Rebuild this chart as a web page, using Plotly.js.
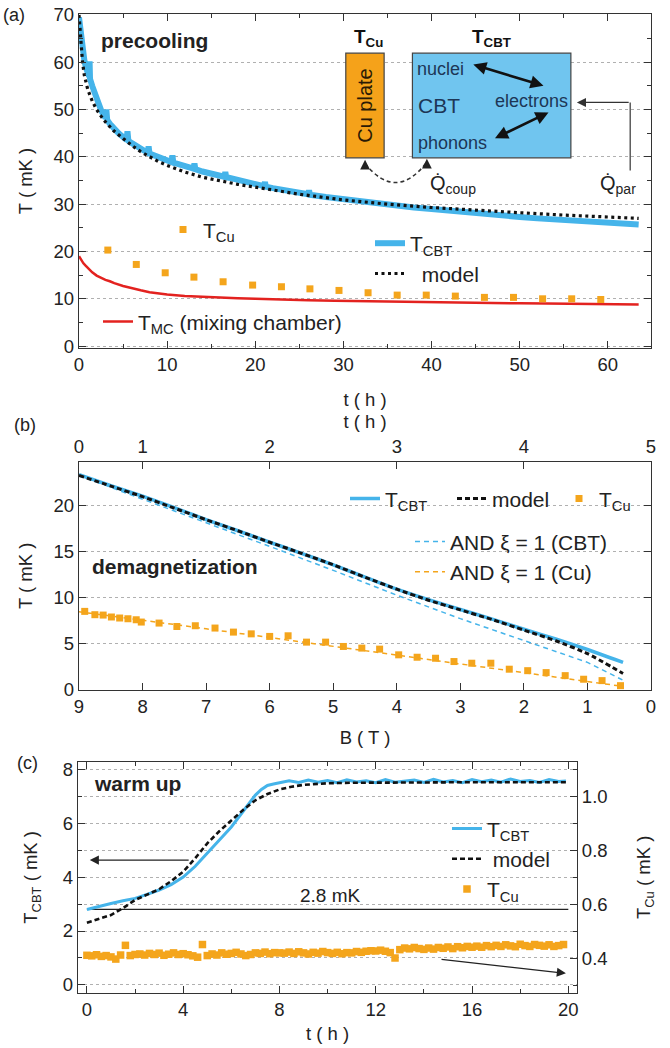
<!DOCTYPE html>
<html>
<head>
<meta charset="utf-8">
<script src="https://cdn.plot.ly/plotly-3.0.1.min.js"></script>
<style>html,body{margin:0;padding:0;background:#fff;} #chart{width:670px;height:1048px;}</style>
</head>
<body>
<div id="chart"></div>
<script>
// ---------------- DATA ----------------
// Panel (a): precooling
const a_cbt_t = [0,0.2,0.4,0.6,0.8,1.0,1.15,1.2,1.25,1.5,1.75,2.0,2.25,2.5,2.75,3.0,3.1,3.2,3.5,4.0,4.5,5.0,5.4,5.5,5.6,6,6.5,7,7.5,7.8,7.9,8.0,8.5,9,9.5,10,10.5,10.6,10.7,11,12,13,13.1,13.2,14,15,16,16.5,16.6,16.7,17,18,19,20,21,21.1,21.2,22,24,26,26.1,26.2,28,30,32,34,36,38,40,42,44,46,48,50,52,54,56,58,60,62,63.5];
const a_cbt_T = [69.5,66,62.5,60.5,58.8,57.4,57,60.2,56.5,55.0,53.5,52.2,51,49.9,49.0,48.2,50.0,47.8,47.0,45.9,45.0,44.2,43.6,45.4,43.4,42.9,42.2,41.7,41.2,40.9,42.2,40.7,40.3,40.0,39.6,39.3,38.9,40.3,38.8,38.6,38.0,37.5,38.6,37.4,36.9,36.4,36.0,35.8,36.8,35.7,35.6,35.1,34.6,34.2,33.8,34.7,33.7,33.4,32.8,32.1,32.9,32.0,31.5,31.0,30.5,30.1,29.7,29.3,29.0,28.6,28.3,28.0,27.6,27.3,27.0,26.8,26.5,26.3,26.1,25.9,25.7];
const a_model_t = [0,0.2,0.4,0.6,0.8,1.0,1.5,2,2.5,3,4,5,6,7,8,9,10,12,14,16,18,20,25,30,35,40,45,50,55,60,63.5];
const a_model_T = [70.0,64.5,60.0,57.3,55.5,54.2,51.8,50.0,48.6,47.4,45.4,43.8,42.4,41.1,40.0,39.0,38.2,36.8,35.7,34.9,34.2,33.6,32.1,30.9,30.0,29.3,28.7,28.2,27.7,27.3,27.0];
const a_mc_t = [0,0.25,0.5,0.75,1,1.5,2,2.5,3,3.5,4,5,6,7,8,9,10,12,14,16,18,20,23,26,29,32,35,38,41,44,47,50,53,56,59,62,63.5];
const a_mc_T = [19.0,18.2,17.5,17.0,16.5,15.6,14.9,14.4,14.0,13.7,13.3,12.7,12.2,11.8,11.4,11.1,10.9,10.6,10.4,10.2,10.1,10.0,9.8,9.7,9.6,9.5,9.4,9.3,9.25,9.2,9.1,9.05,9.0,8.95,8.9,8.85,8.8];
const a_cu_t = [3.27,6.5,9.78,13.04,16.35,19.7,22.97,26.2,29.5,32.8,36.1,39.4,42.7,46.0,49.3,52.6,55.9,59.2];
const a_cu_T = [20.3,17.26,15.5,14.58,13.6,12.9,12.55,12.1,11.77,11.28,10.78,10.78,10.57,10.3,10.3,10.0,10.0,9.85];

// Panel (b): demagnetization (x = B in T, top axis t in h)
const b_cbt_B = [9.0,8.5,8.0,7.5,7.0,6.5,6.0,5.5,5.0,4.5,4.0,3.5,3.0,2.5,2.0,1.5,1.0,0.44];
const b_cbt_T = [23.4,22.2,21.05,19.8,18.5,17.3,16.05,14.85,13.6,12.25,10.95,9.8,8.75,7.7,6.6,5.55,4.4,3.0];
const b_model_T = [23.3,22.15,21.0,19.75,18.5,17.3,16.05,14.85,13.6,12.25,10.95,9.75,8.7,7.65,6.5,5.35,3.95,1.8];
const b_and_B = [9,8,7,6,5,4,3,2,1,0.45];
const b_andcbt_T = [23.3,20.75,18.15,15.6,13.0,10.3,7.75,5.35,3.0,1.1];
const b_andcu_T = [8.5,7.6,6.65,5.7,4.75,3.8,2.85,1.9,0.95,0.4];
const b_cu_B = [8.91,8.75,8.62,8.49,8.36,8.23,8.1,8.02,7.74,7.46,7.17,6.86,6.57,6.29,6.0,5.71,5.42,5.12,4.84,4.55,4.27,3.97,3.68,3.39,3.1,2.82,2.52,2.23,1.94,1.65,1.35,1.06,0.77,0.48];
const b_cu_T = [8.54,8.18,8.14,7.93,7.82,7.74,7.63,7.38,7.27,6.9,6.98,6.73,6.29,6.1,5.82,5.89,5.2,5.2,4.73,4.55,4.44,3.82,3.56,3.45,3.09,2.91,2.91,2.26,2.1,1.89,1.56,1.17,1.02,0.47];
const b_top_tick_B = [9,8,6,4,2,0];
const b_top_tick_t = ['0','1','2','3','4','5'];

// Panel (c): warm up
const c_cbt_t = [0,0.5,1,1.5,2,2.5,3,3.5,4,4.5,5,5.5,6,6.5,7,7.25,7.5,7.75,8,8.4,8.8,9.2,9.6,10.0,10.4,10.8,11.2,11.6,12.0,12.4,12.8,13.2,13.6,14.0,14.4,14.8,15.2,15.6,16.0,16.4,16.8,17.2,17.6,18.0,18.4,18.8,19.2,19.6,19.9];
const c_cbt_T = [2.8,2.92,3.02,3.12,3.21,3.36,3.52,3.72,4.0,4.4,4.88,5.35,5.86,6.45,7.04,7.25,7.4,7.45,7.49,7.57,7.51,7.6,7.52,7.58,7.5,7.61,7.53,7.57,7.5,7.62,7.52,7.56,7.6,7.51,7.63,7.53,7.58,7.5,7.62,7.54,7.6,7.52,7.64,7.55,7.58,7.51,7.62,7.55,7.56];
const c_model_t = [0,0.5,1,1.5,2,2.5,3,3.5,4,4.5,5,5.5,6,6.5,7,7.5,8,8.5,9,9.5,10,11,12,14,16,18,20];
const c_model_T = [2.31,2.45,2.59,2.85,3.15,3.35,3.55,3.85,4.2,4.7,5.25,5.7,6.1,6.5,6.85,7.08,7.25,7.35,7.42,7.46,7.48,7.5,7.51,7.51,7.52,7.52,7.52];
const c_cu_t = [0,0.2,0.4,0.6,0.8,1.0,1.2,1.4,1.6,1.8,2.0,2.2,2.4,2.6,2.8,3.0,3.2,3.4,3.6,3.8,4.0,4.2,4.4,4.6,4.8,5.0,5.2,5.4,5.6,5.8,6.0,6.2,6.4,6.6,6.8,7.0,7.2,7.4,7.6,7.8,8.0,8.2,8.4,8.6,8.8,9.0,9.2,9.4,9.6,9.8,10.0,10.2,10.4,10.6,10.8,11.0,11.2,11.4,11.6,11.8,12.0,12.2,12.4,12.6,12.8,13.0,13.2,13.4,13.6,13.8,14.0,14.2,14.4,14.6,14.8,15.0,15.2,15.4,15.6,15.8,16.0,16.2,16.4,16.6,16.8,17.0,17.2,17.4,17.6,17.8,18.0,18.2,18.4,18.6,18.8,19.0,19.2,19.4,19.6,19.8];
const c_cu_T = [0.411,0.409,0.413,0.407,0.41,0.405,0.397,0.412,0.448,0.41,0.414,
  0.416,0.412,0.418,0.414,0.419,0.411,0.415,0.42,0.414,0.417,
  0.413,0.409,0.404,0.451,0.41,0.416,0.412,0.42,0.415,0.418,
  0.422,0.416,0.41,0.414,0.42,0.418,0.423,0.417,0.421,0.42,
  0.419,0.423,0.418,0.424,0.42,0.416,0.422,0.419,0.425,0.421,
  0.418,0.422,0.417,0.421,0.42,0.425,0.422,0.426,0.428,0.427,
  0.43,0.426,0.421,0.401,0.432,0.438,0.435,0.44,0.436,0.433,
  0.438,0.434,0.44,0.437,0.442,0.436,0.443,0.439,0.444,0.441,
  0.445,0.441,0.447,0.443,0.448,0.444,0.45,0.446,0.443,0.452,
  0.447,0.444,0.451,0.448,0.445,0.45,0.444,0.447,0.451];
const c_ref_t = [0,20];
const c_ref_T = [2.8,2.8];

// ---------------- STYLE ----------------
const W = 670, H = 1048;
const FONT = 'Liberation Sans, Arial, Helvetica, sans-serif';
const BLUE = '#45b4ea', BLUE_FILL = '#70c5ef', ORANGE = '#f4a51c', ORANGE_FILL = '#f5a21a', RED = '#e3221f', BLACK = '#111';
const AX = '#333', GRID = '#b0b0b0', NAVY = '#1d3656';
const px = v => v / W, py = v => 1 - v / H;
const LF = 21;

function leg(textLeft, firstCenter, fs, gap, extra) {
  return Object.assign({
    x: px(textLeft - 40), xanchor: 'left',
    y: py(firstCenter - 5 - 0.65 * fs), yanchor: 'top',
    bgcolor: 'rgba(0,0,0,0)', borderwidth: 0,
    font: {family: FONT, size: fs, color: '#222'},
    itemwidth: 30, tracegroupgap: gap || 0
  }, extra || {});
}

const traces = [
  // ---- panel (a)
  {x: a_mc_t, y: a_mc_T, xaxis: 'x', yaxis: 'y', mode: 'lines', name: 'T<sub>MC</sub> (mixing chamber)',
   line: {color: RED, width: 2.5}, legend: 'legend3'},
  {x: a_cu_t, y: a_cu_T, xaxis: 'x', yaxis: 'y', mode: 'markers', name: 'T<sub>Cu</sub>',
   marker: {symbol: 'square', size: 7, color: ORANGE}, legend: 'legend'},
  {x: a_cbt_t, y: a_cbt_T, xaxis: 'x', yaxis: 'y', mode: 'lines', name: 'T<sub>CBT</sub>',
   line: {color: BLUE, width: 6}, legend: 'legend2', legendgroup: 'a1', legendrank: 1},
  {x: a_model_t, y: a_model_T, xaxis: 'x', yaxis: 'y', mode: 'lines', name: '\u00a0\u00a0model',
   line: {color: BLACK, width: 3.2, dash: '3px,3.5px'}, legend: 'legend2', legendgroup: 'a2', legendrank: 2},

  // ---- panel (b)
  {x: b_and_B, y: b_andcbt_T, xaxis: 'x2', yaxis: 'y2', mode: 'lines', name: 'AND \u03be = 1 (CBT)',
   line: {color: BLUE, width: 1.5, dash: '5px,4px'}, legend: 'legend5', legendgroup: 'b4', legendrank: 1},
  {x: b_cu_B, y: b_cu_T, xaxis: 'x2', yaxis: 'y2', mode: 'markers', name: 'T<sub>Cu</sub>',
   marker: {symbol: 'square', size: 7, color: ORANGE}, legend: 'legend4', legendrank: 3},
  {x: b_and_B, y: b_andcu_T, xaxis: 'x2', yaxis: 'y2', mode: 'lines', name: 'AND \u03be = 1 (Cu)',
   line: {color: ORANGE, width: 1.5, dash: '5px,4px'}, legend: 'legend5', legendgroup: 'b5', legendrank: 2},
  {x: b_cbt_B, y: b_cbt_T, xaxis: 'x2', yaxis: 'y2', mode: 'lines', name: 'T<sub>CBT</sub>',
   line: {color: BLUE, width: 3.5, shape: 'spline', smoothing: 0.6}, legend: 'legend4', legendrank: 1},
  {x: b_cbt_B, y: b_model_T, xaxis: 'x2', yaxis: 'y2', mode: 'lines', name: 'model',
   line: {color: BLACK, width: 3, dash: '5px,3px', shape: 'spline', smoothing: 0.6}, legend: 'legend4', legendrank: 2},
  {x: b_top_tick_B, y: b_top_tick_B.map(() => null), xaxis: 'x3', yaxis: 'y2', mode: 'markers',
   showlegend: false, hoverinfo: 'skip'},

  // ---- panel (c)
  {x: c_ref_t, y: c_ref_T, xaxis: 'x4', yaxis: 'y3', mode: 'lines', showlegend: false,
   line: {color: '#222', width: 1.3}},
  {x: c_cu_t, y: c_cu_T, xaxis: 'x4', yaxis: 'y4', mode: 'markers', name: 'T<sub>Cu</sub>',
   marker: {symbol: 'square', size: 7.5, color: ORANGE}, legend: 'legend6', legendgroup: 'c3', legendrank: 3},
  {x: c_cbt_t, y: c_cbt_T, xaxis: 'x4', yaxis: 'y3', mode: 'lines', name: 'T<sub>CBT</sub>',
   line: {color: BLUE, width: 3}, legend: 'legend6', legendgroup: 'c1', legendrank: 1},
  {x: c_model_t, y: c_model_T, xaxis: 'x4', yaxis: 'y3', mode: 'lines', name: '\u00a0model',
   line: {color: BLACK, width: 2.6, dash: '5px,3px'}, legend: 'legend6', legendgroup: 'c2', legendrank: 2}
];

const tickf = {family: FONT, size: 18.5, color: '#222'};
const titf = {family: FONT, size: 18.5, color: '#222'};
const baseAx = {
  showline: true, linecolor: AX, linewidth: 1.3, ticks: 'inside', ticklen: 7, tickwidth: 1.2,
  tickcolor: AX, tickfont: tickf, zeroline: false, showgrid: false, fixedrange: true, automargin: false
};
const gridY = {showgrid: true, gridcolor: GRID, griddash: 'dot', gridwidth: 1};

const layout = {
  width: W, height: H, margin: {l: 0, r: 0, t: 0, b: 0, autoexpand: false}, paper_bgcolor: '#fff', plot_bgcolor: '#fff',
  font: {family: FONT, color: '#222'},
  // panel (a)
  xaxis: Object.assign({}, baseAx, {domain: [px(79), px(651)], anchor: 'y', range: [0, 64.9], dtick: 10,
    mirror: 'ticks', minor: {dtick: 5, ticks: 'inside', ticklen: 4, tickcolor: AX},
    title: {text: 't ( h )', font: titf, standoff: 18}}),
  yaxis: Object.assign({}, baseAx, gridY, {domain: [py(348), py(14)], anchor: 'x', range: [-0.4, 70.2], dtick: 10,
    mirror: 'ticks', minor: {dtick: 5, ticks: 'inside', ticklen: 4, tickcolor: AX},
    title: {text: 'T ( mK )', font: titf, standoff: 16}}),
  // panel (b)
  xaxis2: Object.assign({}, baseAx, {domain: [px(79), px(651)], anchor: 'y2', range: [9, 0], dtick: 1,
    title: {text: 'B ( T )', font: titf, standoff: 14}}),
  xaxis3: Object.assign({}, baseAx, {overlaying: 'x2', anchor: 'y2', side: 'top', range: [9, 0],
    tickmode: 'array', tickvals: b_top_tick_B, ticktext: b_top_tick_t,
    title: {text: 't ( h )', font: titf, standoff: 2}}),
  yaxis2: Object.assign({}, baseAx, gridY, {domain: [py(690), py(461.7)], anchor: 'x2', range: [0, 24.8], dtick: 5,
    mirror: 'ticks', title: {text: 'T ( mK )', font: titf, standoff: 16}}),
  // panel (c)
  xaxis4: Object.assign({}, baseAx, {domain: [px(78), px(577)], anchor: 'y3', range: [-0.37, 20.36], dtick: 4,
    mirror: 'ticks', minor: {dtick: 2, ticks: 'inside', ticklen: 4, tickcolor: AX},
    title: {text: 't ( h )', font: titf, standoff: 7}}),
  yaxis3: Object.assign({}, baseAx, gridY, {domain: [py(993), py(761.7)], anchor: 'x4', range: [-0.3, 8.28], dtick: 2,
    minor: {dtick: 1, ticks: 'inside', ticklen: 4, tickcolor: AX, showgrid: true, gridcolor: GRID, griddash: 'dot'},
    title: {text: 'T<sub>CBT</sub> ( mK )', font: titf, standoff: 20}}),
  yaxis4: Object.assign({}, baseAx, {overlaying: 'y3', anchor: 'x4', side: 'right', range: [0.271, 1.13],
    tick0: 0.4, dtick: 0.2, tickformat: '.1f',
    minor: {dtick: 0.1, ticks: 'inside', ticklen: 4, tickcolor: AX},
    title: {text: 'T<sub>Cu</sub> ( mK )', font: titf, standoff: 30}}),

  legend: leg(203, 228, LF, 0),
  legend2: leg(410, 241.7, LF, 0),
  legend3: leg(138, 320, LF, 0),
  legend4: leg(385, 497, LF, 0, {orientation: 'h', entrywidth: 62, entrywidthmode: 'pixels'}),
  legend5: leg(450, 540, LF, 0),
  legend6: leg(487, 827, LF, 0),

  shapes: [
    {type: 'rect', xref: 'x', yref: 'y', x0: 28.8, x1: 57.2, y0: 36, y1: 70.1, fillcolor: '#fff', line: {width: 0}, layer: 'below'},
    {type: 'rect', xref: 'x2', yref: 'y2', x0: 4.65, x1: 0.05, y0: 18.5, y1: 21.5, fillcolor: '#fff', line: {width: 0}, layer: 'below'},
    {type: 'rect', xref: 'x2', yref: 'y2', x0: 4.04, x1: 0.05, y0: 13.5, y1: 16.5, fillcolor: '#fff', line: {width: 0}, layer: 'below'},
    {type: 'rect', xref: 'x4', yref: 'y3', x0: 14.4, x1: 20.3, y0: 3.5, y1: 7.3, fillcolor: '#fff', line: {width: 0}, layer: 'below'},
    {type: 'rect', xref: 'x', yref: 'y', x0: 30.27, x1: 34.62, y0: 39.79, y1: 61.92, fillcolor: ORANGE_FILL, line: {color: '#444', width: 1.2}, layer: 'above'},
    {type: 'rect', xref: 'x', yref: 'y', x0: 37.83, x1: 55.81, y0: 39.79, y1: 61.92, fillcolor: BLUE_FILL, line: {color: '#444', width: 1.2}, layer: 'above'},
    {type: 'line', xref: 'x', yref: 'y', x0: 62.54, x1: 62.54, y0: 37.1, y1: 51.5, line: {color: '#444', width: 1.3}},
    {type: 'path', xref: 'x', yref: 'y', path: 'M 32.46,38.6 Q 35.98,30.4 39.47,38.9', line: {color: '#333', width: 1.6, dash: '4px,3px'}}
  ],

  annotations: [
    {xref: 'paper', yref: 'paper', x: px(1), y: py(15), xanchor: 'left', yanchor: 'middle', text: '(a)', showarrow: false, font: {family: FONT, size: 18, color: '#222'}},
    {xref: 'paper', yref: 'paper', x: px(12), y: py(425), xanchor: 'left', yanchor: 'middle', text: '(b)', showarrow: false, font: {family: FONT, size: 18, color: '#222'}},
    {xref: 'paper', yref: 'paper', x: px(15), y: py(763), xanchor: 'left', yanchor: 'middle', text: '(c)', showarrow: false, font: {family: FONT, size: 18, color: '#222'}},
    {xref: 'x', yref: 'y', x: 8.57, y: 64.5, text: '<b>precooling</b>', showarrow: false, font: {family: FONT, size: 21, color: '#222'}},
    {xref: 'x2', yref: 'y2', x: 7.49, y: 13.37, text: '<b>demagnetization</b>', showarrow: false, font: {family: FONT, size: 21, color: '#222'}},
    {xref: 'x4', yref: 'y3', x: 2.11, y: 7.49, text: '<b>warm up</b>', showarrow: false, font: {family: FONT, size: 21, color: '#222'}},
    {xref: 'x4', yref: 'y3', x: 10.1, y: 3.3, text: '2.8 mK', showarrow: false, font: {family: FONT, size: 19, color: '#222'}},
    {xref: 'x', yref: 'y', x: 32.45, y: 50.8, text: 'Cu plate', textangle: -90, showarrow: false, font: {family: FONT, size: 20, color: '#2a1a05'}},
    {xref: 'x', yref: 'y', x: 32.8, y: 65.15, text: '<b>T<sub>Cu</sub></b>', showarrow: false, font: {family: FONT, size: 19, color: '#111'}},
    {xref: 'x', yref: 'y', x: 46.77, y: 65.15, text: '<b>T<sub>CBT</sub></b>', showarrow: false, font: {family: FONT, size: 19, color: '#111'}},
    {xref: 'x', yref: 'y', x: 38.1, y: 58.6, xanchor: 'left', text: 'nuclei', showarrow: false, font: {family: FONT, size: 18, color: NAVY}},
    {xref: 'x', yref: 'y', x: 38.2, y: 50.8, xanchor: 'left', text: 'CBT', showarrow: false, font: {family: FONT, size: 21, color: NAVY}},
    {xref: 'x', yref: 'y', x: 55.75, y: 51.87, xanchor: 'right', text: 'electrons', showarrow: false, font: {family: FONT, size: 18, color: NAVY}},
    {xref: 'x', yref: 'y', x: 38.2, y: 43.0, xanchor: 'left', text: 'phonons', showarrow: false, font: {family: FONT, size: 18, color: NAVY}},
    {xref: 'x', yref: 'y', x: 52.7, y: 55.03, ax: 44.57, ay: 59.6, axref: 'x', ayref: 'y', text: '', showarrow: true,
     arrowhead: 2, startarrowhead: 2, arrowside: 'end+start', arrowsize: 1, startarrowsize: 1, arrowwidth: 2.6, arrowcolor: '#111', standoff: 0, startstandoff: 0},
    {xref: 'x', yref: 'y', x: 53.27, y: 49.4, ax: 47.03, ay: 43.79, axref: 'x', ayref: 'y', text: '', showarrow: true,
     arrowhead: 2, startarrowhead: 2, arrowside: 'end+start', arrowsize: 1, startarrowsize: 1, arrowwidth: 2.6, arrowcolor: '#111', standoff: 0, startstandoff: 0},
    {xref: 'x', yref: 'y', x: 56.49, y: 51.5, ax: 62.54, ay: 51.5, axref: 'x', ayref: 'y', text: '', showarrow: true,
     arrowhead: 2, arrowsize: 1.4, arrowwidth: 1.3, arrowcolor: '#333', standoff: 0},
    {xref: 'x', yref: 'y', x: 32.46, y: 39.4, ax: 0, ay: 9, text: '', showarrow: true, arrowhead: 2, arrowsize: 1.3, arrowwidth: 1.5, arrowcolor: '#222', standoff: 0},
    {xref: 'x', yref: 'y', x: 39.47, y: 39.6, ax: 0, ay: 9, text: '', showarrow: true, arrowhead: 2, arrowsize: 1.3, arrowwidth: 1.5, arrowcolor: '#222', standoff: 0},
    {xref: 'x', yref: 'y', x: 39.6, y: 34.2, xanchor: 'left', text: 'Q\u0307<sub>coup</sub>', showarrow: false, font: {family: FONT, size: 20, color: '#222'}},
    {xref: 'x', yref: 'y', x: 58.9, y: 34.2, xanchor: 'left', text: 'Q\u0307<sub>par</sub>', showarrow: false, font: {family: FONT, size: 20, color: '#222'}},
    {xref: 'x4', yref: 'y3', x: 0.12, y: 4.63, ax: 4.29, ay: 4.63, axref: 'x4', ayref: 'y3', text: '', showarrow: true,
     arrowhead: 2, arrowsize: 1.4, arrowwidth: 1.3, arrowcolor: '#222', standoff: 0},
    {xref: 'x4', yref: 'y3', x: 19.9, y: 0.43, ax: 14.67, ay: 0.95, axref: 'x4', ayref: 'y3', text: '', showarrow: true,
     arrowhead: 2, arrowsize: 1.4, arrowwidth: 1.3, arrowcolor: '#222', standoff: 0}
  ]
};

Plotly.newPlot('chart', traces, layout, {displayModeBar: false, responsive: false});
</script>
</body>
</html>
